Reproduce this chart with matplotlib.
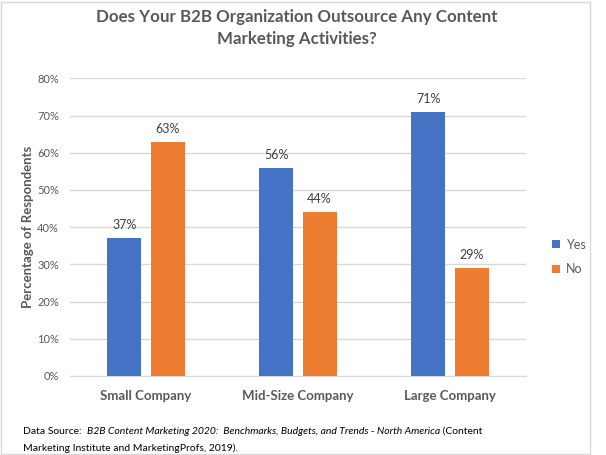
import matplotlib.pyplot as plt
import numpy as np
from matplotlib.patches import Rectangle

plt.rcParams['font.family'] = ['Lato', 'DejaVu Sans']

categories = ["Small Company", "Mid-Size Company", "Large Company"]
yes_vals = [37, 56, 71]
no_vals = [63, 44, 29]
series_names = ["Yes", "No"]
y_ticks = [0, 10, 20, 30, 40, 50, 60, 70, 80]

blue = "#4472C4"
orange = "#ED7D31"
grid_col = "#D9D9D9"
text_col = "#595959"

fig = plt.figure(figsize=(6.06, 4.55), dpi=100)
ax = fig.add_axes([70/606, 1-376/455, 456/606, (376-78.3)/455])

x = np.arange(len(categories))
w = 0.224
off = 0.142
b1 = ax.bar(x - off, yes_vals, w, color=blue, label=series_names[0], zorder=3)
b2 = ax.bar(x + off, no_vals, w, color=orange, label=series_names[1], zorder=3)

for bars, vals in [(b1, yes_vals), (b2, no_vals)]:
    for b, v in zip(bars, vals):
        ax.annotate("%d%%" % v, (b.get_x() + b.get_width()/2, v),
                    xytext=(0, 5), textcoords="offset points",
                    ha="center", va="bottom", fontsize=9,
                    color="#404040")

ax.set_xlim(-0.5, 2.5)
ax.set_ylim(0, 80)
ax.set_yticks(y_ticks)
ax.set_yticklabels(["%d%%" % t for t in y_ticks])
ax.set_xticks(x)
ax.set_xticklabels(categories, fontsize=9.5, fontweight="bold", color=text_col)
ax.tick_params(axis="y", labelsize=8, labelcolor=text_col, length=0, pad=8)
ax.tick_params(axis="x", length=0, pad=10)
ax.grid(axis="y", color=grid_col, linewidth=1, zorder=0)
for s in ["top", "right", "left"]:
    ax.spines[s].set_visible(False)
ax.spines["bottom"].set_color(grid_col)

ax.set_ylabel("Percentage of Respondents", fontsize=9.5, fontweight="bold",
              color=text_col)
ax.yaxis.set_label_coords(-0.078, 0.5)

fig.text(297/606, 1-28/455, "Does Your B2B Organization Outsource Any Content\nMarketing Activities?",
         ha="center", va="center", fontsize=12.2, fontweight="bold", color=text_col,
         linespacing=1.5)

fig.legend(handles=[b1, b2], labels=series_names, loc="center left",
           bbox_to_anchor=(541/606, 1-257/455), frameon=False, fontsize=9,
           handlelength=0.6, handleheight=0.6, handletextpad=0.5,
           labelspacing=1.0, labelcolor=text_col)

# source note, mixed roman / italic
src_kw = dict(fontsize=7.5, color="#000000", va="baseline")
t1 = fig.text(23/606, 1-434/455, "Data Source:  ", **src_kw)
t2 = ax.annotate("B2B Content Marketing 2020:  Benchmarks, Budgets, and Trends - North America",
                 xy=(1, 0), xycoords=t1, va="bottom", fontsize=7.5, style="italic",
                 annotation_clip=False)
t3 = ax.annotate(" (Content", xy=(1, 0), xycoords=t2, va="bottom", fontsize=7.5,
                 annotation_clip=False)
fig.text(23/606, 1-451/455, "Marketing Institute and MarketingProfs, 2019).", **src_kw)

fig.patches.append(Rectangle((1/606, 1/455), 589/606, 452/455, transform=fig.transFigure,
                             fill=False, edgecolor=grid_col, linewidth=1))

fig.savefig("out.png", dpi=100)
